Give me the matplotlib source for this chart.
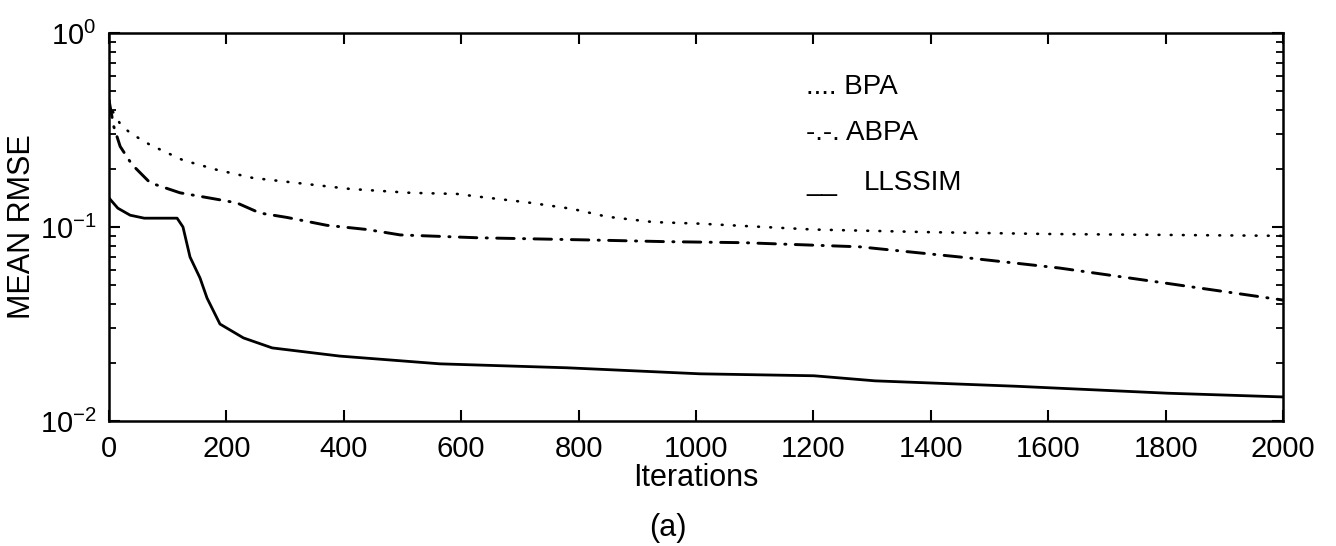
import matplotlib
matplotlib.use("Agg")
import matplotlib.pyplot as plt
from matplotlib.ticker import LogLocator, NullFormatter

plt.rcParams['font.family'] = ['Liberation Sans', 'DejaVu Sans']
plt.rcParams['mathtext.fontset'] = 'custom'
plt.rcParams['mathtext.rm'] = 'Liberation Sans'
plt.rcParams['mathtext.default'] = 'regular'

# ---- data ----
bpa_iter = [0, 5, 19, 36, 70, 126, 184, 245, 325, 411, 513, 593, 632, 712, 789,
            848, 927, 1007, 1087, 1200, 1400, 1600, 1800, 2000]
bpa_rmse = [0.45, 0.40, 0.34, 0.305, 0.265, 0.221, 0.197, 0.179, 0.168, 0.157,
            0.150, 0.148, 0.143, 0.134, 0.124, 0.113, 0.106, 0.104, 0.101,
            0.097, 0.094, 0.092, 0.091, 0.090]

abpa_iter = [0, 8, 19, 39, 70, 121, 189, 218, 257, 303, 371, 440, 496, 627, 819,
             950, 1080, 1279, 1450, 1618, 1799, 2000]
abpa_rmse = [0.45, 0.33, 0.26, 0.21, 0.169, 0.150, 0.138, 0.133, 0.118, 0.112,
             0.102, 0.097, 0.091, 0.088, 0.0857, 0.084, 0.083, 0.079, 0.070,
             0.0615, 0.0514, 0.042]

llssim_iter = [0, 15, 36, 60, 116, 126, 138, 155, 167, 189, 229, 278, 393, 564,
               780, 1007, 1201, 1305, 1545, 1804, 2000]
llssim_rmse = [0.141, 0.125, 0.115, 0.111, 0.111, 0.100, 0.070, 0.0546, 0.043,
               0.0316, 0.0268, 0.0238, 0.0216, 0.0197, 0.0188, 0.0175, 0.0171,
               0.0161, 0.0151, 0.0139, 0.0133]

x_ticks = [0, 200, 400, 600, 800, 1000, 1200, 1400, 1600, 1800, 2000]
legend_labels = ["BPA", "ABPA", "LLSSIM"]
legend_marks = ["....", "-.-.", "__"]

# ---- figure ----
fig = plt.figure(figsize=(13.36, 5.46), dpi=100)
ax = fig.add_axes([0.0816, 0.229, 0.8787, 0.7106])

ax.plot(bpa_iter, bpa_rmse, color='black', lw=1.9,
        linestyle=(0, (0.3, 4.3)), dash_capstyle='round')
ax.plot(abpa_iter, abpa_rmse, color='black', lw=2.1,
        linestyle=(0, (6, 3.2, 0.4, 3.2)), dash_capstyle='round')
ax.plot(llssim_iter, llssim_rmse, color='black', lw=2.0, linestyle='-')

ax.set_yscale('log')
ax.set_xlim(0, 2000)
ax.set_ylim(1e-2, 1e0)
ax.set_xticks(x_ticks)
ax.set_xticklabels([str(t) for t in x_ticks])
ax.yaxis.set_major_locator(LogLocator(base=10, numticks=10))
ax.yaxis.set_minor_locator(LogLocator(base=10, subs=range(2, 10), numticks=20))
ax.yaxis.set_minor_formatter(NullFormatter())

for s in ax.spines.values():
    s.set_linewidth(1.8)

ax.tick_params(axis='both', which='major', direction='in', length=8, width=1.5,
               top=True, right=True, labelsize=21, pad=10)
ax.tick_params(axis='y', which='major', pad=9)
ax.tick_params(axis='y', which='minor', direction='in', length=5, width=1.3,
               left=True, right=True)

ax.set_xlabel("Iterations", fontsize=22, labelpad=0)
ax.set_ylabel("MEAN RMSE", fontsize=22)
ax.yaxis.set_label_coords(-0.0613, 0.5)

fig.text(0.5, 1 - 528 / 546, "(a)", ha='center', va='center', fontsize=22)

# text legend (MATLAB-style)
ys = [87, 133, 183]
for mark, lab, y in zip(legend_marks, legend_labels, ys):
    yf = 1 - y / 546
    if mark == "__":
        fig.text(806 / 1336, yf, mark, ha='left', va='center', fontsize=20)
        fig.text(864 / 1336, yf, lab, ha='left', va='center', fontsize=20)
    else:
        fig.text(806 / 1336, yf, mark + " " + lab, ha='left', va='center', fontsize=20)

fig.savefig("out.png", dpi=100)
